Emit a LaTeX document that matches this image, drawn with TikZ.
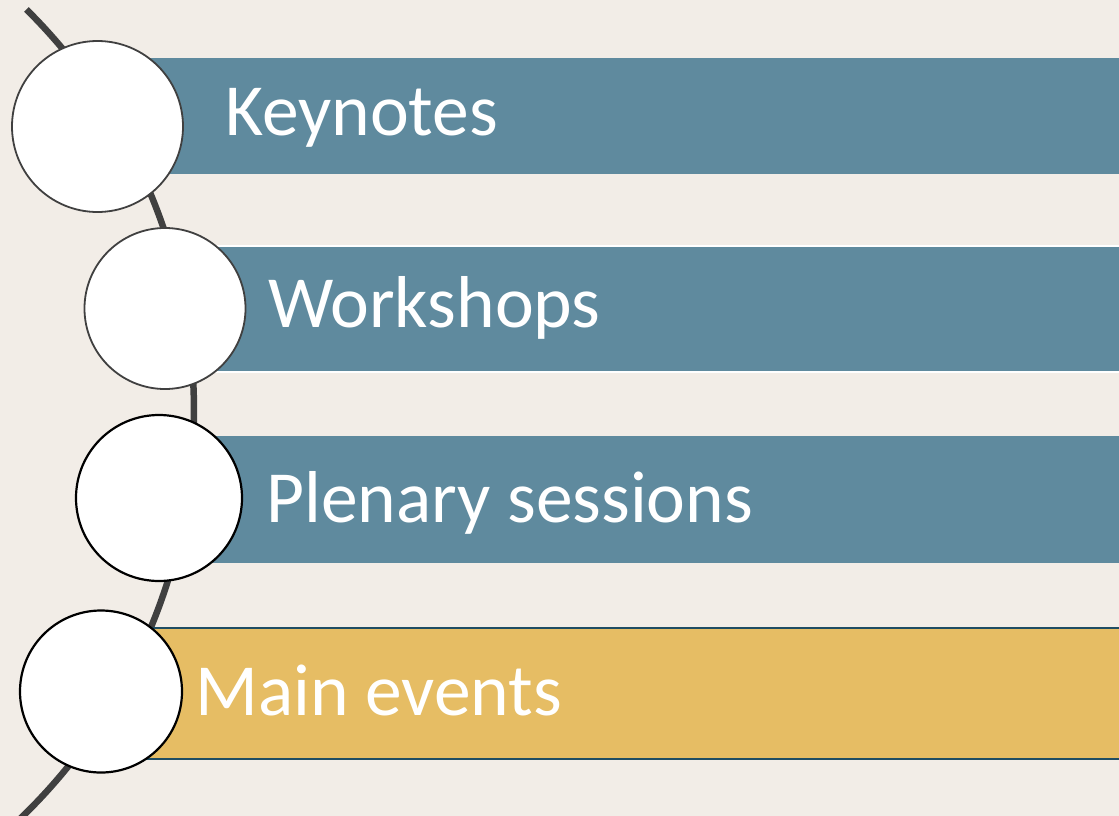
\documentclass[tikz,border=0pt]{standalone}
\usepackage{fontspec}
\setmainfont{Carlito}
\usetikzlibrary{calc}
\definecolor{paper}{HTML}{F2EDE7}
\definecolor{slate}{HTML}{5F8A9E}
\definecolor{mustard}{HTML}{E6BD64}
\definecolor{ink}{HTML}{404040}
\definecolor{navy}{HTML}{1F4D63}
\def\centerarc[#1](#2)(#3:#4:#5){\draw[#1] ($(#2)+({#5*cos(#3)},{#5*sin(#3)})$) arc (#3:#4:#5);}

\begin{document}
\begin{tikzpicture}[x=1pt,y=-1pt,
	band/.style={fill=slate},
	disc/.style={circle,fill=white,draw=ink,line width=1.8pt,inner sep=0pt},
	bandtext/.style={anchor=base west,text=white,inner sep=0pt,font=\fontsize{73.5}{88}\selectfont}]
			%%%%% START %%%%%
			
			\useasboundingbox (0, 0) rectangle (1119, 816);
			\fill[paper] (0, 0) rectangle (1119, 816);
			\clip (0, 0) rectangle (1119, 816);
			
			\centerarc[line width=6.5pt, color=ink](-371, 411)(-45.3:48:565)
			
			\fill[band] (97, 58) rectangle (1119, 174);
			\draw[band, draw=white, line width=2pt] (165, 246) rectangle (1125, 372);
			\fill[band] (159, 436) rectangle (1119, 563);
			\draw[fill=mustard, draw=navy, line width=2pt] (101, 628) rectangle (1125, 759);
			
			\node[disc, minimum size=171pt] (keydot) at (97.5, 126.5) {};
			\node[disc, minimum size=161pt] (workdot) at (165, 308.5) {};
			\node[disc, minimum size=166pt, draw=black, line width=2.2pt] (plendot) at (159, 498) {};
			\node[disc, minimum size=162pt, draw=black, line width=2.2pt] (maindot) at (101, 691.5) {};
			
			\node[bandtext] (keynotes) at (225, 135) {Keynotes};
			\node[bandtext] (workshops) at (268, 327) {Workshops};
			\node[bandtext] (plenary) at (266, 522) {Plenary sessions};
			\node[bandtext] (mainevents) at (195, 715) {Main events};
			
			%%%%% END %%%%%
		\end{tikzpicture}
\end{document}
